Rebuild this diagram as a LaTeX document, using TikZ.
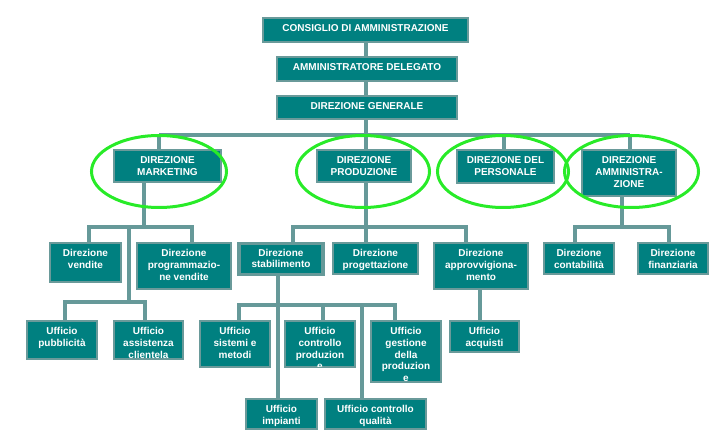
\documentclass[tikz,border=0pt]{standalone}
\usepackage{fontspec}
\setmainfont{Liberation Sans}
\usetikzlibrary{shapes.geometric}
\definecolor{teal1}{RGB}{0,128,128}
\definecolor{edge1}{RGB}{106,154,154}
\definecolor{line1}{RGB}{102,153,153}
\definecolor{lime1}{RGB}{40,235,40}
\tikzset{
  box/.style={draw=edge1, fill=teal1, line width=1.1pt, inner sep=0pt},
  bigbox/.style={draw=line1, fill=teal1, line width=3.6pt, inner sep=0pt},
  lbl/.style={anchor=north, inner sep=0pt, align=center, text=white,
    font=\bfseries\fontsize{10}{11.7}\selectfont},
  conn/.style={draw=line1, line width=3.3pt},
  ring/.style={draw=lime1, line width=3pt, ellipse, inner sep=0pt},
}
\newcommand{\obox}[7][box]{%
  \node[#1, minimum width=#5, minimum height=#6] (#2) at (#3,#4) {};
  \node[lbl] at ([yshift=-6pt]#2.north) {\strut #7};}
\begin{document}
\begin{tikzpicture}[x=1pt,y=-1pt]
\useasboundingbox (0,0) rectangle (726,438);
% junction coordinates
\coordinate (j1l) at (159,135);
\coordinate (j1r) at (630,135);
\coordinate (j1p) at (504,135);
\coordinate (m1) at (144,227);
\coordinate (m2) at (89,227);
\coordinate (m3) at (192,227);
\coordinate (m4) at (129,227);
\coordinate (m5) at (129,302);
\coordinate (u1) at (65,302);
\coordinate (u2) at (145,302);
\coordinate (p1) at (293,227);
\coordinate (p2) at (466,227);
\coordinate (pc) at (366,227);
\coordinate (s1) at (239,305);
\coordinate (s2) at (323,305);
\coordinate (s3) at (395,305);
\coordinate (sv) at (278,305);
\coordinate (sq) at (362,305);
\coordinate (ap) at (480,300);
\coordinate (a0) at (622,227);
\coordinate (a1) at (575,227);
\coordinate (a2) at (669,227);

% connectors (drawn first, under the boxes)
\path[conn] (j1l) -- (j1r);
\path[conn] (pc |- 0,42) -- (pc |- 0,150);
\path[conn] (j1l) -- (j1l |- 0,150);
\path[conn] (j1p) -- (j1p |- 0,150);
\path[conn] (j1r) -- (j1r |- 0,150);
% marketing subtree
\path[conn] (m1 |- 0,182) -- (m1);
\path[conn] (m2 |- 0,243) -- (m2) -- (m3) -- (m3 |- 0,243);
\path[conn] (m4) -- (m5);
\path[conn] (u1 |- 0,321) -- (u1) -- (u2) -- (u2 |- 0,321);
% produzione subtree
\path[conn] (pc |- 0,182) -- (pc |- 0,243);
\path[conn] (p1 |- 0,243) -- (p1) -- (p2) -- (p2 |- 0,243);
\path[conn] (sv |- 0,276) -- (sv |- 0,399);
\path[conn] (s1 |- 0,321) -- (s1) -- (s3) -- (s3 |- 0,321);
\path[conn] (s2) -- (s2 |- 0,321);
\path[conn] (sq) -- (sq |- 0,399);
\path[conn] (ap |- 0,289) -- (ap |- 0,321);
% amministrazione subtree
\path[conn] (a0 |- 0,196) -- (a0);
\path[conn] (a1 |- 0,243) -- (a1) -- (a2) -- (a2 |- 0,243);

% boxes
\obox{cda}{365.5}{30}{205}{24}{CONSIGLIO DI AMMINISTRAZIONE}
\obox{ad}{367}{69}{180}{24}{AMMINISTRATORE DELEGATO}
\obox{dg}{367}{107.5}{180}{23}{DIREZIONE GENERALE}
\obox{mkt}{167.5}{166}{107}{32}{DIREZIONE\\MARKETING}
\obox{prod}{364}{166}{94}{32}{DIREZIONE\\PRODUZIONE}
\obox{pers}{505.5}{166.5}{97}{33}{DIREZIONE DEL\\PERSONALE}
\obox{amm}{629}{173}{94}{46}{DIREZIONE\\AMMINISTRA-\\ZIONE}
\obox{vend}{85.5}{262.5}{71}{39}{Direzione\\vendite}
\obox{prog}{184}{266}{94}{46}{Direzione\\programmazio-\\ne vendite}
\obox[bigbox]{stab}{281}{259}{84}{31}{Direzione\\stabilimento}
\obox{proget}{375.5}{258.5}{85}{31}{Direzione\\progettazione}
\obox{approv}{481}{266}{94}{46}{Direzione\\approvvigiona-\\mento}
\obox{cont}{579}{258.5}{70}{31}{Direzione\\contabilità}
\obox{fin}{673}{258.5}{70}{31}{Direzione\\finanziaria}
\obox{pubb}{62}{340}{70}{38}{Ufficio\\pubblicità}
\obox{assist}{148.5}{340}{69}{38}{Ufficio\\assistenza\\clientela}
\obox{sist}{235}{344}{70}{46}{Ufficio\\sistemi e\\metodi}
\node[box, minimum width=70, minimum height=46] (contrprod) at (320,344) {};
\begin{scope}
\clip (contrprod.south west) rectangle (contrprod.north east);
\node[lbl] at ([yshift=-6pt]contrprod.north) {\strut Ufficio\\controllo\\produzion\\e};
\end{scope}
\draw[edge1, line width=1.1pt] (contrprod.south west) rectangle (contrprod.north east);
\obox{gest}{406}{351.5}{70}{61}{Ufficio\\gestione\\della\\produzion\\e}
\obox{acq}{484.5}{336.5}{69}{31}{Ufficio\\acquisti}
\obox{imp}{281.5}{414}{71}{30}{Ufficio\\impianti}
\obox{qual}{375.5}{414}{101}{30}{Ufficio controllo\\qualità}

% green ellipses
\node[ring, minimum width=135, minimum height=72] (e1) at (159,171.5) {};
\node[ring, minimum width=133, minimum height=72] (e2) at (363,171.5) {};
\node[ring, minimum width=131, minimum height=72] (e3) at (503,171.5) {};
\node[ring, minimum width=134, minimum height=72] (e4) at (631.5,171.5) {};
\end{tikzpicture}
\end{document}
